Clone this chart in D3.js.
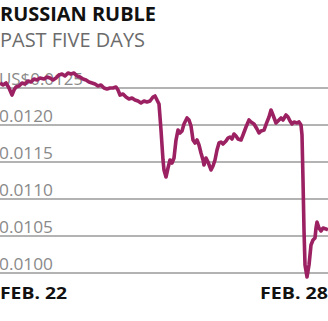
<!DOCTYPE html>
<html>
<head>
<meta charset="utf-8">
<script src="https://cdn.jsdelivr.net/npm/d3@7"></script>
<style>
  html, body { margin: 0; padding: 0; background: #fff; }
  svg { display: block; }
</style>
</head>
<body>
<svg id="chart"></svg>
<script>
// Russian ruble in US$ over the past five trading days
const timeIdx = [0,3,6,9,12,14,16,19,22,25,28,31,34,37,40,44,47,50,53,56,59,62,65,68,71,74,77,80,83,86,89,92,95,98,101,104,107,110,113,116,118,120,123,126,129,132,135,138,141,144,147,150,153,155,157,159,161,163,164,166,168,170,172,174,176,178,180,182,184,187,189,191,193,195,197,199,201,203,204,206,208,211,213,215,217,219,221,223,226,228,230,232,234,236,238,241,243,246,249,251,254,257,259,261,264,267,269,271,273,276,278,281,283,286,288,290,292,294,297,299,301,302,303,304,305,307,309,311,313,315,316,317,319,321,323,326,328];
const rubleUsd = [0.012568,0.012541,0.012568,0.012500,0.012405,0.012473,0.012514,0.012527,0.012568,0.012554,0.012595,0.012581,0.012622,0.012608,0.012635,0.012622,0.012649,0.012635,0.012608,0.012635,0.012676,0.012689,0.012662,0.012703,0.012689,0.012703,0.012662,0.012649,0.012622,0.012608,0.012581,0.012568,0.012554,0.012527,0.012541,0.012500,0.012486,0.012500,0.012500,0.012514,0.012473,0.012405,0.012419,0.012378,0.012351,0.012365,0.012338,0.012324,0.012297,0.012324,0.012311,0.012324,0.012378,0.012392,0.012338,0.012284,0.011932,0.011527,0.011392,0.011297,0.011419,0.011527,0.011486,0.011554,0.011797,0.011932,0.011892,0.011919,0.012014,0.012095,0.012068,0.011986,0.011797,0.011757,0.011797,0.011730,0.011622,0.011527,0.011459,0.011554,0.011500,0.011392,0.011446,0.011527,0.011662,0.011757,0.011770,0.011743,0.011784,0.011824,0.011838,0.011811,0.011878,0.011851,0.011811,0.011797,0.011865,0.011973,0.012068,0.012041,0.012014,0.011946,0.011892,0.011919,0.011932,0.012041,0.012108,0.012203,0.012135,0.012027,0.012054,0.012095,0.012068,0.012135,0.012108,0.012054,0.012014,0.012041,0.012027,0.012041,0.012000,0.011865,0.011257,0.010581,0.010108,0.009946,0.010108,0.010378,0.010446,0.010473,0.010608,0.010689,0.010608,0.010568,0.010608,0.010595,0.010581];
const yTicks = [0.0100, 0.0105, 0.0110, 0.0115, 0.0120, 0.0125];
const dateLabels = ['FEB. 22', 'FEB. 28'];

const width = 328, height = 321;
const svg = d3.select('#chart').attr('width', width).attr('height', height);

const x = d3.scaleLinear().domain([0, 328]).range([0, width]);
const y = d3.scaleLinear().domain([0.0100, 0.0125]).range([273, 88]);

// title block
svg.append('text')
    .attr('x', 0).attr('y', 21)
    .attr('font-family', 'Open Sans').attr('font-weight', 'bold')
    .attr('font-size', '20px').attr('fill', '#111')
    .attr('textLength', 156).attr('lengthAdjust', 'spacingAndGlyphs')
    .text('RUSSIAN RUBLE');

svg.append('text')
    .attr('x', 0).attr('y', 47)
    .attr('font-family', 'Open Sans')
    .attr('font-size', '19.5px').attr('fill', '#6b6b6b')
    .attr('textLength', 145).attr('lengthAdjust', 'spacingAndGlyphs')
    .text('PAST FIVE DAYS');

// gridlines + labels
const grid = svg.append('g');
grid.selectAll('line')
    .data(yTicks)
    .enter()
    .append('line')
    .attr('x1', 0).attr('x2', width)
    .attr('y1', d => y(d)).attr('y2', d => y(d))
    .attr('stroke', '#9a9a9a')
    .attr('stroke-width', 1.5);

grid.selectAll('text')
    .data(yTicks)
    .enter()
    .append('text')
    .attr('x', -1)
    .attr('y', d => y(d) - 3.5)
    .attr('font-family', 'Open Sans')
    .attr('font-size', '17px')
    .attr('fill', '#8a8a8a')
    .attr('textLength', d => d === 0.0125 ? 84 : 54)
    .attr('lengthAdjust', 'spacingAndGlyphs')
    .text(d => (d === 0.0125 ? 'US$' : '') + d3.format('.4f')(d));

// line
const line = d3.line()
    .x((d, i) => x(timeIdx[i]))
    .y(d => y(d))
    .curve(d3.curveLinear);

svg.append('path')
    .datum(rubleUsd)
    .attr('d', line)
    .attr('fill', 'none')
    .attr('stroke', '#9b2162')
    .attr('stroke-width', 3.6)
    .attr('stroke-linejoin', 'round');

// date labels
svg.append('text')
    .attr('x', 0).attr('y', 299)
    .attr('font-family', 'Open Sans').attr('font-weight', 'bold')
    .attr('font-size', '16.5px').attr('fill', '#111')
    .attr('textLength', 67).attr('lengthAdjust', 'spacingAndGlyphs')
    .text(dateLabels[0]);

svg.append('text')
    .attr('x', 328).attr('y', 299)
    .attr('text-anchor', 'end')
    .attr('font-family', 'Open Sans').attr('font-weight', 'bold')
    .attr('font-size', '16.5px').attr('fill', '#111')
    .attr('textLength', 68).attr('lengthAdjust', 'spacingAndGlyphs')
    .text(dateLabels[1]);
</script>
</body>
</html>
